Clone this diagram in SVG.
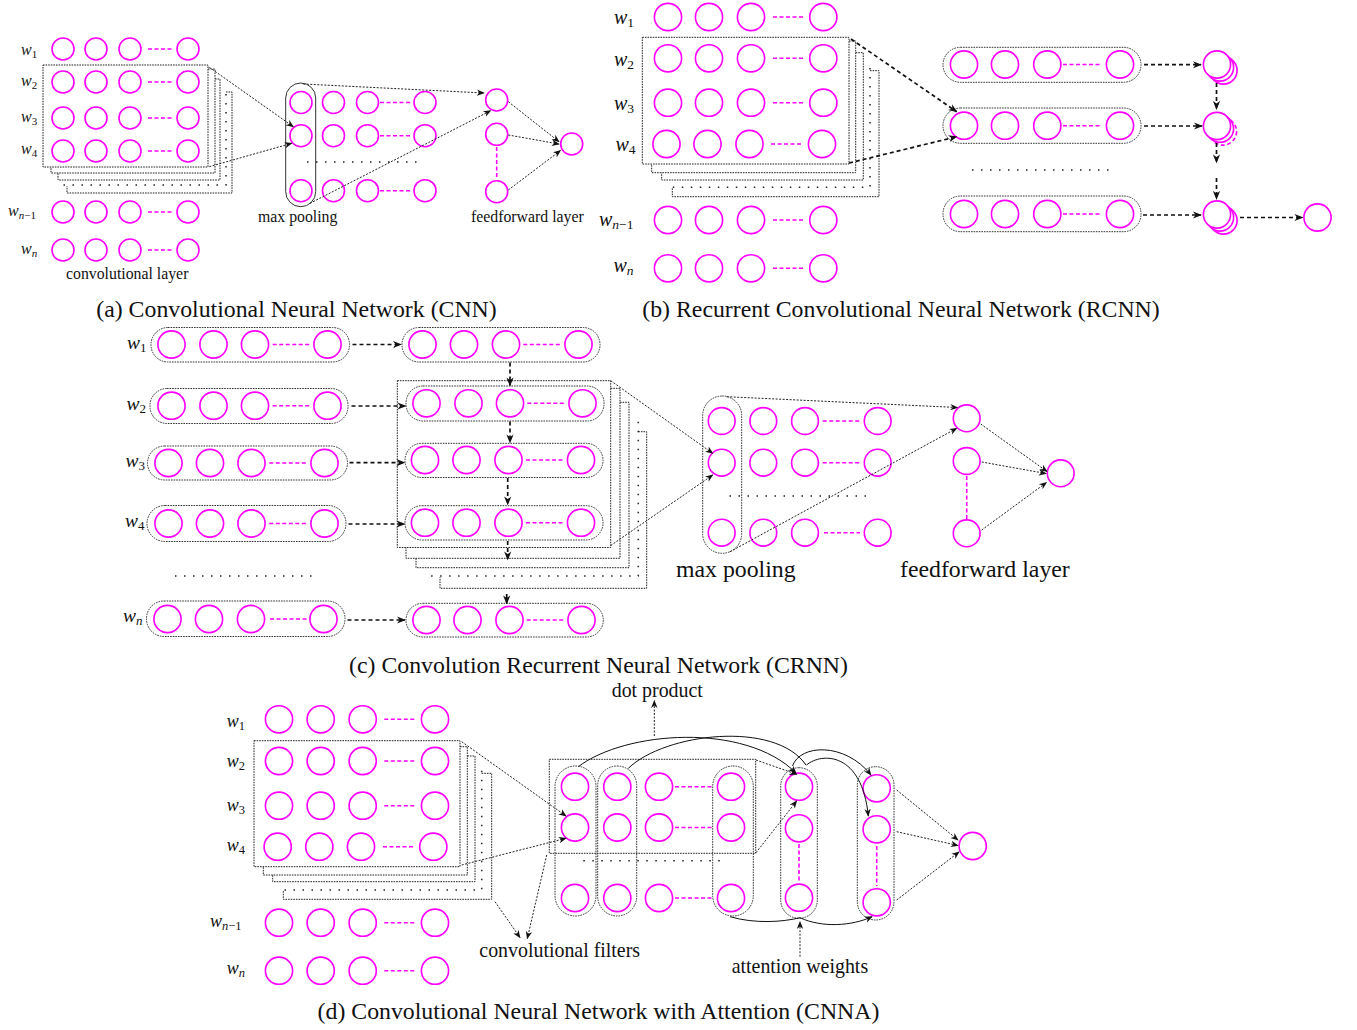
<svg xmlns="http://www.w3.org/2000/svg" width="1357" height="1030" viewBox="0 0 1357 1030">
<defs>
<style>
.m{fill:none;stroke:#f0f;stroke-width:1.6}
.mw{fill:#fff;stroke:#f0f;stroke-width:1.6}
.md{fill:none;stroke:#f0f;stroke-width:1.6;stroke-dasharray:4 2.5}
.bx{fill:none;stroke:#222;stroke-width:1;stroke-dasharray:1.6 1}
.dt{fill:none;stroke:#222;stroke-width:1.5;stroke-dasharray:1.5 7.5}
.ov{fill:none;stroke:#333;stroke-width:1;stroke-dasharray:1.6 1}
.a1{fill:none;stroke:#222;stroke-width:1;stroke-dasharray:2 1.5;marker-end:url(#ah)}
.a2{fill:none;stroke:#111;stroke-width:1.7;stroke-dasharray:4 3;marker-end:url(#ah2)}
.cv{fill:none;stroke:#111;stroke-width:1}
.cva{fill:none;stroke:#111;stroke-width:1;marker-end:url(#ah)}
.t{font-family:"Liberation Serif","Times New Roman",serif;fill:#111}
.w{font-family:"Liberation Serif","Times New Roman",serif;font-style:italic;fill:#111}
.s{font-style:normal}
</style>
<marker id="ah" viewBox="0 0 10 10" refX="9" refY="5" markerWidth="8" markerHeight="8" orient="auto" markerUnits="userSpaceOnUse"><path d="M0,1 L10,5 L0,9 L3,5 z" fill="#111"/></marker>
<marker id="ah2" viewBox="0 0 10 10" refX="9" refY="5" markerWidth="9" markerHeight="9" orient="auto" markerUnits="userSpaceOnUse"><path d="M0,1 L10,5 L0,9 L3,5 z" fill="#111"/></marker>
</defs>
<rect width="1357" height="1030" fill="#fff"/>

<!-- ================= (a) CNN ================= -->
<g id="a-labels" class="w" font-size="16">
<text x="21" y="55">w<tspan font-size="11" dy="3" class="s">1</tspan></text>
<text x="21" y="86">w<tspan font-size="11" dy="3" class="s">2</tspan></text>
<text x="21" y="121.5">w<tspan font-size="11" dy="3" class="s">3</tspan></text>
<text x="21" y="154">w<tspan font-size="11" dy="3" class="s">4</tspan></text>
<text x="8" y="216">w<tspan font-size="11" dy="3">n</tspan><tspan font-size="11" class="s">−1</tspan></text>
<text x="21" y="254">w<tspan font-size="11" dy="3">n</tspan></text>
</g>
<g id="a-stack">
<rect class="bx" x="43" y="65" width="165" height="102"/>
<polyline class="bx" points="208,69 215,69 215,173 51,173 51,167"/>
<polyline class="bx" points="215,79 220,79 220,180 58,180 58,173"/>
<polyline class="dt" points="226,94 226,185 62,185"/>
<polyline class="bx" points="226,92 232,92 232,193 67,193 67,186"/>
</g>
<g id="a-input">
<g id="a-r1"><circle class="m" cx="63" cy="49" r="11"/><circle class="m" cx="96" cy="49" r="11"/><circle class="m" cx="130" cy="49" r="11"/><circle class="m" cx="188" cy="49" r="11"/><line class="md" x1="148" y1="49" x2="173" y2="49"/></g>
<g id="a-r2"><circle class="m" cx="63" cy="82" r="11"/><circle class="m" cx="96" cy="82" r="11"/><circle class="m" cx="130" cy="82" r="11"/><circle class="m" cx="188" cy="82" r="11"/><line class="md" x1="148" y1="82" x2="173" y2="82"/></g>
<g id="a-r3"><circle class="m" cx="63" cy="118" r="11"/><circle class="m" cx="96" cy="118" r="11"/><circle class="m" cx="130" cy="118" r="11"/><circle class="m" cx="188" cy="118" r="11"/><line class="md" x1="148" y1="118" x2="173" y2="118"/></g>
<g id="a-r4"><circle class="m" cx="63" cy="151" r="11"/><circle class="m" cx="96" cy="151" r="11"/><circle class="m" cx="130" cy="151" r="11"/><circle class="m" cx="188" cy="151" r="11"/><line class="md" x1="148" y1="151" x2="173" y2="151"/></g>
<g id="a-r5"><circle class="m" cx="63" cy="212" r="11"/><circle class="m" cx="96" cy="212" r="11"/><circle class="m" cx="130" cy="212" r="11"/><circle class="m" cx="188" cy="212" r="11"/><line class="md" x1="148" y1="212" x2="173" y2="212"/></g>
<g id="a-r6"><circle class="m" cx="63" cy="250" r="11"/><circle class="m" cx="96" cy="250" r="11"/><circle class="m" cx="130" cy="250" r="11"/><circle class="m" cx="188" cy="250" r="11"/><line class="md" x1="148" y1="250" x2="173" y2="250"/></g>
</g>
<g id="a-pool">
<rect x="285.7" y="83" width="30" height="123.7" rx="15" fill="none" stroke="#333" stroke-width="1"/>
<circle class="m" cx="301" cy="102.5" r="11"/><circle class="m" cx="333.5" cy="102.5" r="11"/><circle class="m" cx="367.5" cy="102.5" r="11"/><circle class="m" cx="425" cy="102.5" r="11"/><line class="md" x1="380" y1="102.5" x2="410" y2="102.5"/>
<circle class="m" cx="301" cy="135.7" r="11"/><circle class="m" cx="333.5" cy="135.7" r="11"/><circle class="m" cx="367.5" cy="135.7" r="11"/><circle class="m" cx="425" cy="135.7" r="11"/><line class="md" x1="380" y1="135.7" x2="410" y2="135.7"/>
<circle class="m" cx="301" cy="190.7" r="11"/><circle class="m" cx="333.5" cy="190.7" r="11"/><circle class="m" cx="367.5" cy="190.7" r="11"/><circle class="m" cx="425" cy="190.7" r="11"/><line class="md" x1="380" y1="190.7" x2="410" y2="190.7"/>
<line class="dt" x1="307" y1="162" x2="418" y2="162"/>
</g>
<g id="a-ff">
<circle class="m" cx="496.7" cy="100" r="11"/><circle class="m" cx="496.7" cy="134.3" r="11"/><circle class="m" cx="496.7" cy="191.7" r="11"/>
<line class="md" x1="496.7" y1="147" x2="496.7" y2="179"/>
</g>
<g id="a-out"><circle class="m" cx="571.7" cy="144" r="11"/></g>
<g id="a-text" class="t" font-size="15.8">
<text x="258" y="222">max pooling</text>
<text x="471" y="222">feedforward layer</text>
<text x="66" y="279">convolutional layer</text>
</g>

<!-- ================= (b) RCNN ================= -->
<g id="b-labels" class="w" font-size="20">
<text x="614" y="24">w<tspan font-size="13.5" dy="3" class="s">1</tspan></text>
<text x="614" y="65.7">w<tspan font-size="13.5" dy="3" class="s">2</tspan></text>
<text x="614" y="110">w<tspan font-size="13.5" dy="3" class="s">3</tspan></text>
<text x="615.5" y="150.7">w<tspan font-size="13.5" dy="3" class="s">4</tspan></text>
<text x="599" y="226">w<tspan font-size="13.5" dy="3">n</tspan><tspan font-size="13.5" class="s">−1</tspan></text>
<text x="613.5" y="272">w<tspan font-size="13.5" dy="3">n</tspan></text>
</g>
<g id="b-stack">
<rect class="bx" x="642.3" y="37.3" width="206.7" height="126.7"/>
<polyline class="bx" points="849,41 855.7,41 855.7,172.7 651.7,172.7 651.7,164"/>
<polyline class="bx" points="855.7,52.7 863.3,52.7 863.3,180 661.7,180 661.7,172.7"/>
<polyline class="dt" points="870,68 870,187.3 666.7,187.3"/>
<polyline class="bx" points="870,70.7 879,70.7 879,196.7 672.3,196.7 672.3,188"/>
</g>
<g id="b-input">
<g id="b-r1"><circle class="m" cx="668" cy="17" r="13.6"/><circle class="m" cx="709" cy="17" r="13.6"/><circle class="m" cx="751" cy="17" r="13.6"/><circle class="m" cx="823.3" cy="17" r="13.6"/><line class="md" x1="773" y1="17" x2="803" y2="17"/></g>
<g id="b-r2"><circle class="m" cx="668" cy="58.3" r="13.6"/><circle class="m" cx="709" cy="58.3" r="13.6"/><circle class="m" cx="751" cy="58.3" r="13.6"/><circle class="m" cx="823.3" cy="58.3" r="13.6"/><line class="md" x1="773" y1="58.3" x2="803" y2="58.3"/></g>
<g id="b-r3"><circle class="m" cx="668" cy="102.7" r="13.6"/><circle class="m" cx="709" cy="102.7" r="13.6"/><circle class="m" cx="751" cy="102.7" r="13.6"/><circle class="m" cx="823.3" cy="102.7" r="13.6"/><line class="md" x1="773" y1="102.7" x2="803" y2="102.7"/></g>
<g id="b-r4"><circle class="m" cx="666.5" cy="144" r="13.6"/><circle class="m" cx="707.5" cy="144" r="13.6"/><circle class="m" cx="749.5" cy="144" r="13.6"/><circle class="m" cx="822" cy="144" r="13.6"/><line class="md" x1="771" y1="144" x2="802" y2="144"/></g>
<g id="b-r5"><circle class="m" cx="668" cy="220" r="13.6"/><circle class="m" cx="709" cy="220" r="13.6"/><circle class="m" cx="751" cy="220" r="13.6"/><circle class="m" cx="823.3" cy="220" r="13.6"/><line class="md" x1="773" y1="220" x2="803" y2="220"/></g>
<g id="b-r6"><circle class="m" cx="668" cy="268.3" r="13.6"/><circle class="m" cx="709" cy="268.3" r="13.6"/><circle class="m" cx="751" cy="268.3" r="13.6"/><circle class="m" cx="823.3" cy="268.3" r="13.6"/><line class="md" x1="773" y1="268.3" x2="803" y2="268.3"/></g>
</g>
<g id="b-rnn1"><rect class="ov" x="943" y="47.3" width="198" height="35" rx="17.5"/><circle class="m" cx="964" cy="64.5" r="13.6"/><circle class="m" cx="1005" cy="64.5" r="13.6"/><circle class="m" cx="1047.3" cy="64.5" r="13.6"/><circle class="m" cx="1120" cy="64.5" r="13.6"/><line class="md" x1="1063" y1="64.5" x2="1102" y2="64.5"/></g>
<g id="b-rnn2"><rect class="ov" x="943" y="108" width="198" height="35.3" rx="17.5"/><circle class="m" cx="964" cy="125.7" r="13.6"/><circle class="m" cx="1005" cy="125.7" r="13.6"/><circle class="m" cx="1047.3" cy="125.7" r="13.6"/><circle class="m" cx="1120" cy="125.7" r="13.6"/><line class="md" x1="1063" y1="125.7" x2="1102" y2="125.7"/></g>
<g id="b-dots"><line class="dt" x1="972" y1="170" x2="1111" y2="170"/></g>
<g id="b-rnn3"><rect class="ov" x="943" y="196" width="198" height="35.7" rx="17.5"/><circle class="m" cx="964" cy="214" r="13.6"/><circle class="m" cx="1005" cy="214" r="13.6"/><circle class="m" cx="1047.3" cy="214" r="13.6"/><circle class="m" cx="1120" cy="214" r="13.6"/><line class="md" x1="1063" y1="214" x2="1102" y2="214"/></g>
<g id="b-h1"><circle class="mw" cx="1223.5" cy="70.5" r="13.6"/><circle class="mw" cx="1220" cy="67.5" r="13.6"/><circle class="mw" cx="1217" cy="64.5" r="13.6"/></g>
<g id="b-h2"><circle fill="#fff" stroke="#f0f" stroke-width="1.6" stroke-dasharray="4 2.5" cx="1223" cy="131.5" r="13.6"/><circle class="mw" cx="1220" cy="128.7" r="13.6"/><circle class="mw" cx="1217" cy="126" r="13.6"/></g>
<g id="b-h3"><circle class="mw" cx="1223.5" cy="220.5" r="13.6"/><circle class="mw" cx="1220" cy="217.5" r="13.6"/><circle class="mw" cx="1217" cy="214.5" r="13.6"/></g>
<g id="b-out"><circle class="m" cx="1317.5" cy="217.5" r="13.6"/></g>

<!-- ================= (c) CRNN ================= -->
<g id="c-labels" class="w" font-size="19.5">
<text x="127" y="349">w<tspan font-size="13" dy="3" class="s">1</tspan></text>
<text x="126.5" y="410">w<tspan font-size="13" dy="3" class="s">2</tspan></text>
<text x="125.5" y="466.7">w<tspan font-size="13" dy="3" class="s">3</tspan></text>
<text x="125" y="527">w<tspan font-size="13" dy="3" class="s">4</tspan></text>
<text x="123" y="621.7">w<tspan font-size="13" dy="3">n</tspan></text>
</g>
<g id="c-stack">
<rect class="bx" x="397.3" y="380.7" width="213.4" height="166.8"/>
<polyline class="bx" points="610.7,388.3 620,388.3 620,558.3 406,558.3 406,547.5"/>
<polyline class="bx" points="620,402.3 629,402.3 629,567.7 416,567.7 416,558.3"/>
<polyline class="dt" points="638.3,421.7 638.3,576 426,576"/>
<polyline class="bx" points="638.3,431.7 646.7,431.7 646.7,588.3 440,588.3 440,577"/>
</g>
<g id="c-L1"><rect class="ov" x="151" y="327.5" width="198.5" height="34.5" rx="17"/><circle class="m" cx="171.5" cy="344.5" r="13.6"/><circle class="m" cx="213.5" cy="344.5" r="13.6"/><circle class="m" cx="255" cy="344.5" r="13.6"/><circle class="m" cx="327.5" cy="344.5" r="13.6"/><line class="md" x1="272.7" y1="344.5" x2="309.3" y2="344.5"/></g>
<g id="c-L2"><rect class="ov" x="150" y="388.5" width="198" height="35" rx="17"/><circle class="m" cx="171.5" cy="405.7" r="13.6"/><circle class="m" cx="213.5" cy="405.7" r="13.6"/><circle class="m" cx="255" cy="405.7" r="13.6"/><circle class="m" cx="327.5" cy="405.7" r="13.6"/><line class="md" x1="272.7" y1="405.7" x2="309.3" y2="405.7"/></g>
<g id="c-L3"><rect class="ov" x="147.5" y="446" width="200" height="34" rx="17"/><circle class="m" cx="168.5" cy="463" r="13.6"/><circle class="m" cx="210" cy="463" r="13.6"/><circle class="m" cx="251.5" cy="463" r="13.6"/><circle class="m" cx="324.5" cy="463" r="13.6"/><line class="md" x1="269.3" y1="463" x2="306" y2="463"/></g>
<g id="c-L4"><rect class="ov" x="147" y="505.5" width="199" height="36" rx="18"/><circle class="m" cx="168.5" cy="523.5" r="13.6"/><circle class="m" cx="210" cy="523.5" r="13.6"/><circle class="m" cx="251.5" cy="523.5" r="13.6"/><circle class="m" cx="324.5" cy="523.5" r="13.6"/><line class="md" x1="269.3" y1="523.5" x2="306" y2="523.5"/></g>
<g id="c-Ldots"><line class="dt" x1="175" y1="576" x2="315" y2="576"/></g>
<g id="c-Ln"><rect class="ov" x="146.5" y="601" width="198.5" height="35.5" rx="17.5"/><circle class="m" cx="167.5" cy="619" r="13.6"/><circle class="m" cx="209" cy="619" r="13.6"/><circle class="m" cx="251" cy="619" r="13.6"/><circle class="m" cx="323.5" cy="619" r="13.6"/><line class="md" x1="270" y1="619" x2="309" y2="619"/></g>
<g id="c-R1"><rect class="ov" x="402" y="327.5" width="198" height="34.5" rx="17"/><circle class="m" cx="422.5" cy="344.5" r="13.6"/><circle class="m" cx="464" cy="344.5" r="13.6"/><circle class="m" cx="506" cy="344.5" r="13.6"/><circle class="m" cx="578.5" cy="344.5" r="13.6"/><line class="md" x1="523.3" y1="344.5" x2="560" y2="344.5"/></g>
<g id="c-R2"><rect class="ov" x="406" y="386" width="198" height="35" rx="17"/><circle class="m" cx="426.5" cy="403.3" r="13.6"/><circle class="m" cx="468.5" cy="403.3" r="13.6"/><circle class="m" cx="510" cy="403.3" r="13.6"/><circle class="m" cx="582.5" cy="403.3" r="13.6"/><line class="md" x1="527.3" y1="403.3" x2="564" y2="403.3"/></g>
<g id="c-R3"><rect class="ov" x="405" y="443.3" width="198" height="34.2" rx="17"/><circle class="m" cx="425" cy="460" r="13.6"/><circle class="m" cx="466.5" cy="460" r="13.6"/><circle class="m" cx="508.5" cy="460" r="13.6"/><circle class="m" cx="581" cy="460" r="13.6"/><line class="md" x1="526" y1="460" x2="562.7" y2="460"/></g>
<g id="c-R4"><rect class="ov" x="405" y="505.7" width="198" height="34.3" rx="17"/><circle class="m" cx="425" cy="522.7" r="13.6"/><circle class="m" cx="466.5" cy="522.7" r="13.6"/><circle class="m" cx="508.5" cy="522.7" r="13.6"/><circle class="m" cx="581" cy="522.7" r="13.6"/><line class="md" x1="526" y1="522.7" x2="562.7" y2="522.7"/></g>
<g id="c-Rn"><rect class="ov" x="406" y="603.3" width="197.3" height="33.7" rx="17"/><circle class="m" cx="426.5" cy="620" r="13.6"/><circle class="m" cx="467.5" cy="620" r="13.6"/><circle class="m" cx="509.5" cy="620" r="13.6"/><circle class="m" cx="581.5" cy="620" r="13.6"/><line class="md" x1="526.7" y1="620" x2="563.3" y2="620"/></g>
<g id="c-pool">
<rect class="ov" x="702.7" y="396" width="39" height="157.3" rx="19.5"/>
<circle class="m" cx="721.7" cy="421" r="13.4"/><circle class="m" cx="763.3" cy="421" r="13.4"/><circle class="m" cx="805" cy="421" r="13.4"/><circle class="m" cx="877.7" cy="421" r="13.4"/><line class="md" x1="822.7" y1="421" x2="860" y2="421"/>
<circle class="m" cx="721.7" cy="462.7" r="13.4"/><circle class="m" cx="763.3" cy="462.7" r="13.4"/><circle class="m" cx="805" cy="462.7" r="13.4"/><circle class="m" cx="877.7" cy="462.7" r="13.4"/><line class="md" x1="822.7" y1="462.7" x2="860" y2="462.7"/>
<circle class="m" cx="721.7" cy="532.7" r="13.4"/><circle class="m" cx="763.3" cy="532.7" r="13.4"/><circle class="m" cx="805" cy="532.7" r="13.4"/><circle class="m" cx="877.7" cy="532.7" r="13.4"/><line class="md" x1="824" y1="532.7" x2="860" y2="532.7"/>
<line class="dt" x1="729.5" y1="496" x2="868" y2="496"/>
</g>
<g id="c-ff">
<circle class="m" cx="966.7" cy="418.3" r="13.4"/><circle class="m" cx="966.7" cy="461" r="13.4"/><circle class="m" cx="966.7" cy="533.3" r="13.4"/>
<line class="md" x1="966.7" y1="476" x2="966.7" y2="519"/>
</g>
<g id="c-out"><circle class="m" cx="1060.7" cy="473.3" r="13.4"/></g>
<g id="c-text" class="t" font-size="23.8">
<text x="676" y="577">max pooling</text>
<text x="900" y="577">feedforward layer</text>
</g>

<!-- ================= (d) CNNA ================= -->
<g id="d-labels" class="w" font-size="18">
<text x="226.7" y="727">w<tspan font-size="12.5" dy="3" class="s">1</tspan></text>
<text x="226.7" y="766.7">w<tspan font-size="12.5" dy="3" class="s">2</tspan></text>
<text x="226.7" y="810.7">w<tspan font-size="12.5" dy="3" class="s">3</tspan></text>
<text x="226.7" y="850.7">w<tspan font-size="12.5" dy="3" class="s">4</tspan></text>
<text x="210" y="926.7">w<tspan font-size="12.5" dy="3">n</tspan><tspan font-size="12.5" class="s">−1</tspan></text>
<text x="226.7" y="974">w<tspan font-size="12.5" dy="3">n</tspan></text>
</g>
<g id="d-stack">
<rect class="bx" x="254" y="740.7" width="206" height="126"/>
<polyline class="bx" points="460,746.7 467.3,746.7 467.3,875 263.3,875 263.3,866.7"/>
<polyline class="bx" points="467.3,756 475,756 475,881.7 272.7,881.7 272.7,875"/>
<polyline class="dt" points="481.7,770.7 481.7,890 279,890"/>
<polyline class="bx" points="481.7,773.3 491.7,773.3 491.7,899.3 283.3,899.3 283.3,890"/>
</g>
<g id="d-input">
<g id="d-r1"><circle class="m" cx="279" cy="719.3" r="13.6"/><circle class="m" cx="320.7" cy="719.3" r="13.6"/><circle class="m" cx="362.7" cy="719.3" r="13.6"/><circle class="m" cx="435" cy="719.3" r="13.6"/><line class="md" x1="384.3" y1="719.3" x2="415" y2="719.3"/></g>
<g id="d-r2"><circle class="m" cx="279" cy="761" r="13.6"/><circle class="m" cx="320.7" cy="761" r="13.6"/><circle class="m" cx="362.7" cy="761" r="13.6"/><circle class="m" cx="435" cy="761" r="13.6"/><line class="md" x1="384.3" y1="761" x2="415" y2="761"/></g>
<g id="d-r3"><circle class="m" cx="279" cy="805.7" r="13.6"/><circle class="m" cx="320.7" cy="805.7" r="13.6"/><circle class="m" cx="362.7" cy="805.7" r="13.6"/><circle class="m" cx="435" cy="805.7" r="13.6"/><line class="md" x1="384.3" y1="805.7" x2="415" y2="805.7"/></g>
<g id="d-r4"><circle class="m" cx="277.7" cy="846.7" r="13.6"/><circle class="m" cx="319.3" cy="846.7" r="13.6"/><circle class="m" cx="361" cy="846.7" r="13.6"/><circle class="m" cx="433.3" cy="846.7" r="13.6"/><line class="md" x1="383" y1="846.7" x2="413.5" y2="846.7"/></g>
<g id="d-r5"><circle class="m" cx="279" cy="922.7" r="13.6"/><circle class="m" cx="320.7" cy="922.7" r="13.6"/><circle class="m" cx="362.7" cy="922.7" r="13.6"/><circle class="m" cx="435" cy="922.7" r="13.6"/><line class="md" x1="384.3" y1="922.7" x2="415" y2="922.7"/></g>
<g id="d-r6"><circle class="m" cx="279" cy="970.7" r="13.6"/><circle class="m" cx="320.7" cy="970.7" r="13.6"/><circle class="m" cx="362.7" cy="970.7" r="13.6"/><circle class="m" cx="435" cy="970.7" r="13.6"/><line class="md" x1="384.3" y1="970.7" x2="415" y2="970.7"/></g>
</g>
<g id="d-filters">
<rect class="bx" x="549.3" y="759.3" width="206.4" height="94"/>
<rect class="ov" x="555" y="766" width="41" height="150" rx="20.5"/>
<rect class="ov" x="597.7" y="766" width="39" height="150" rx="19.5"/>
<rect class="ov" x="712.7" y="766" width="40.6" height="150" rx="20.3"/>
<circle class="m" cx="575" cy="786.7" r="13.6"/><circle class="m" cx="617.3" cy="786.7" r="13.6"/><circle class="m" cx="659" cy="786.7" r="13.6"/><circle class="m" cx="731" cy="786.7" r="13.6"/><line class="md" x1="675" y1="786.7" x2="713.3" y2="786.7"/>
<circle class="m" cx="575" cy="827.5" r="13.6"/><circle class="m" cx="617.3" cy="827.5" r="13.6"/><circle class="m" cx="659" cy="827.5" r="13.6"/><circle class="m" cx="731" cy="827.5" r="13.6"/><line class="md" x1="675" y1="827.5" x2="713.3" y2="827.5"/>
<circle class="m" cx="575" cy="898" r="13.6"/><circle class="m" cx="617.3" cy="898" r="13.6"/><circle class="m" cx="659" cy="898" r="13.6"/><circle class="m" cx="731" cy="898" r="13.6"/><line class="md" x1="675" y1="898" x2="713.3" y2="898"/>
<line class="dt" x1="583.3" y1="860.7" x2="722" y2="860.7"/>
</g>
<g id="d-att1">
<rect class="ov" x="780.7" y="767.7" width="36.6" height="150.6" rx="18.3"/>
<circle class="m" cx="799" cy="786.7" r="13.6"/><circle class="m" cx="799" cy="828.3" r="13.6"/><circle class="m" cx="799" cy="897.7" r="13.6"/>
<line class="md" x1="799" y1="844" x2="799" y2="882"/>
</g>
<g id="d-att2">
<rect class="ov" x="857.3" y="766.7" width="36.7" height="153.3" rx="18.3"/>
<circle class="m" cx="876.7" cy="788.3" r="13.6"/><circle class="m" cx="876.7" cy="829.3" r="13.6"/><circle class="m" cx="876.7" cy="902.3" r="13.6"/>
<line class="md" x1="876.7" y1="846" x2="876.7" y2="886"/>
</g>
<g id="d-out"><circle class="m" cx="972.7" cy="846" r="13.6"/></g>
<g id="d-text" class="t" font-size="19.9">
<text x="611.7" y="697">dot product</text>
<text x="479.3" y="956.7">convolutional filters</text>
<text x="731.7" y="973">attention weights</text>
</g>

<!-- ================= connectors ================= -->
<g id="connectors">
<!-- (a) -->
<line class="a1" x1="209.3" y1="67.3" x2="293.3" y2="126.7"/>
<line class="a1" x1="209.3" y1="166.7" x2="291.7" y2="143.3"/>
<line class="a1" x1="303.3" y1="84" x2="484" y2="93"/>
<line class="a1" x1="310" y1="203.3" x2="490.7" y2="110.7"/>
<line class="a1" x1="508.3" y1="101.7" x2="559" y2="141.7"/>
<line class="a1" x1="508.3" y1="135" x2="559" y2="144"/>
<line class="a1" x1="508.3" y1="190" x2="560.5" y2="150.5"/>
<!-- (b) -->
<line class="a2" x1="851" y1="39" x2="956.7" y2="111.7"/>
<line class="a2" x1="849" y1="163" x2="956.7" y2="136.7"/>
<line class="a2" x1="1144" y1="64.7" x2="1201" y2="64.7"/>
<line class="a2" x1="1144" y1="126" x2="1202" y2="126"/>
<line class="a2" x1="1143" y1="215" x2="1201" y2="215"/>
<line class="a2" x1="1216.5" y1="83" x2="1216.5" y2="109"/>
<line class="a2" x1="1216.5" y1="143" x2="1216.5" y2="162.5"/>
<line class="a2" x1="1216.5" y1="178" x2="1216.5" y2="199"/>
<line class="a2" x1="1240" y1="217.5" x2="1302.5" y2="217.5"/>
<!-- (c) -->
<line class="a2" x1="352.5" y1="344.5" x2="401" y2="344.5"/>
<line class="a2" x1="351.5" y1="406" x2="405.5" y2="406"/>
<line class="a2" x1="349.5" y1="462.7" x2="404.5" y2="462.7"/>
<line class="a2" x1="348.5" y1="524" x2="404.5" y2="524"/>
<line class="a2" x1="347.5" y1="620" x2="405" y2="620"/>
<line class="a2" x1="510" y1="362.5" x2="510" y2="385.5"/>
<line class="a2" x1="510" y1="421.5" x2="510" y2="442.5"/>
<line class="a2" x1="507.7" y1="478" x2="507.7" y2="504.5"/>
<line class="a2" x1="507.7" y1="541" x2="507.7" y2="559.5"/>
<line class="a2" x1="506.7" y1="594" x2="506.7" y2="603.5"/>
<line class="a1" x1="610.7" y1="380.7" x2="712.7" y2="453.3"/>
<line class="a1" x1="610.7" y1="545.5" x2="712.7" y2="475"/>
<line class="a1" x1="726.7" y1="396.7" x2="957.5" y2="407.5"/>
<line class="a1" x1="730" y1="551.7" x2="956.7" y2="428.3"/>
<line class="a1" x1="980.7" y1="424" x2="1047" y2="471.5"/>
<line class="a1" x1="981.7" y1="462" x2="1046" y2="473.5"/>
<line class="a1" x1="981.7" y1="530" x2="1046.5" y2="482.5"/>
<!-- (d) -->
<line class="a1" x1="461.7" y1="741.7" x2="566" y2="816"/>
<line class="a1" x1="461.7" y1="865" x2="566" y2="838.3"/>
<line class="a1" x1="756" y1="760" x2="796.7" y2="774.3"/>
<line class="a1" x1="756" y1="852.7" x2="796.7" y2="801"/>
<line class="a1" x1="896.7" y1="790" x2="958" y2="840"/>
<line class="a1" x1="896.7" y1="831.7" x2="958" y2="845.5"/>
<line class="a1" x1="896.7" y1="900" x2="959" y2="852"/>
<path class="cva" d="M578.3,766.7 C625,731 745,722 796,773"/>
<path class="cv" d="M628.3,768.3 C665,733 775,720 806,765"/>
<path class="cva" d="M792.5,766 C800,744 845,742 871,775"/>
<path class="cva" d="M806.5,765 C822,752 862,752 868.3,816"/>
<path class="cv" d="M730,916.7 C755,924 783,922 800,917.7"/>
<path class="cva" d="M800,917.7 C822,928 852,926 872,916.7"/>
<line class="a1" x1="654.3" y1="736" x2="654.3" y2="700.7"/>
<line class="a1" x1="800" y1="956.7" x2="800" y2="921.7"/>
<line class="a1" x1="495" y1="901.7" x2="520" y2="937.5"/>
<line class="a1" x1="546.7" y1="855" x2="527.3" y2="938.5"/>
</g>

<!-- ================= captions ================= -->
<g id="captions" class="t" font-size="23.8" text-anchor="middle">
<text x="296.5" y="317">(a) Convolutional Neural Network (CNN)</text>
<text x="901" y="317">(b) Recurrent Convolutional Neural Network (RCNN)</text>
<text x="598.5" y="673">(c) Convolution Recurrent Neural Network (CRNN)</text>
<text x="598.5" y="1019">(d) Convolutional Neural Network with Attention (CNNA)</text>
</g>
</svg>
